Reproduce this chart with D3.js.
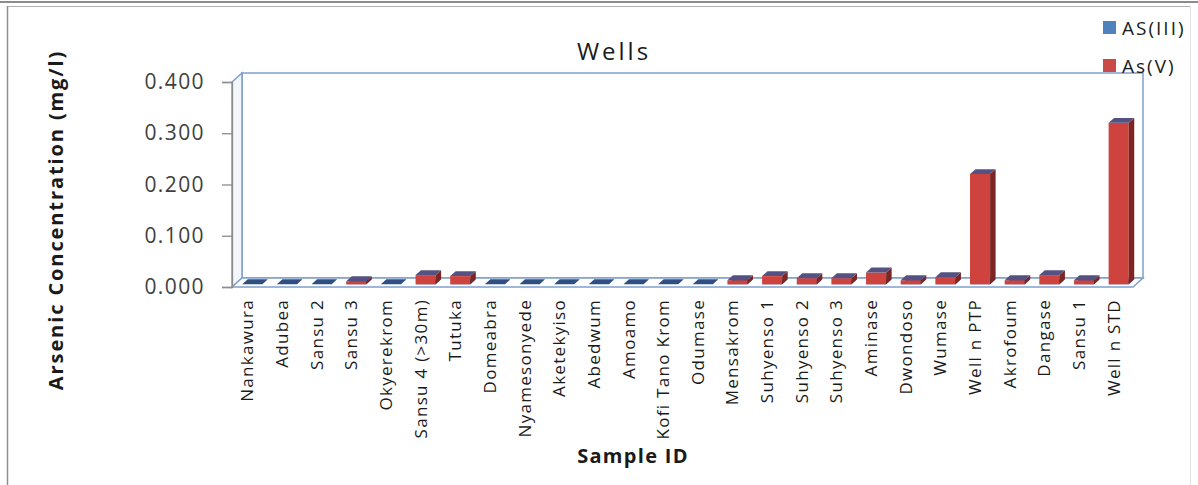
<!DOCTYPE html>
<html>
<head>
<meta charset="utf-8">
<script src="https://cdn.jsdelivr.net/npm/d3@7"></script>
<style>
  html, body { margin: 0; padding: 0; background: #fff; }
  svg { display: block; }
  text { font-family: "Open Sans", Lato, sans-serif; }
</style>
</head>
<body>
<svg id="chart" width="1198" height="485"></svg>
<script>
// Arsenic concentration per well (mg/l)
const categories = [
  "Nankawura", "Adubea", "Sansu 2", "Sansu 3", "Okyerekrom", "Sansu 4 (>30m)",
  "Tutuka", "Domeabra", "Nyamesonyede", "Aketekyiso", "Abedwum", "Amoamo",
  "Kofi Tano Krom", "Odumase", "Mensakrom", "Suhyenso 1", "Suhyenso 2",
  "Suhyenso 3", "Aminase", "Dwondoso", "Wumase", "Well n PTP", "Akrofoum",
  "Dangase", "Sansu 1", "Well n STD"
];
const as3 = [0, 0, 0, 0, 0, 0, 0, 0, 0, 0, 0, 0, 0, 0, 0, 0, 0, 0, 0, 0, 0, 0, 0, 0, 0, 0];
const as5 = [0, 0, 0, 0.006, 0, 0.018, 0.016, 0, 0, 0, 0, 0, 0, 0, 0.008, 0.016, 0.012,
             0.012, 0.023, 0.008, 0.014, 0.215, 0.008, 0.018, 0.008, 0.315];
const yTicks = [0, 0.1, 0.2, 0.3, 0.4];
const seriesNames = ["AS(III)", "As(V)"];
const seriesColors = ["#4f81bd", "#c94a46"];

const svg = d3.select("#chart");

// frame of the chart area
svg.append("line").attr("x1", 0).attr("x2", 1198).attr("y1", 2).attr("y2", 2)
  .attr("stroke", "#8c8c8c").attr("stroke-width", 2);
svg.append("line").attr("x1", 7.5).attr("x2", 1190).attr("y1", 6.5).attr("y2", 6.5)
  .attr("stroke", "#b0b0b0").attr("stroke-width", 1.2);
svg.append("line").attr("x1", 7.5).attr("x2", 7.5).attr("y1", 6).attr("y2", 485)
  .attr("stroke", "#8f8f8f").attr("stroke-width", 1.5);
svg.append("line").attr("x1", 1190.5).attr("x2", 1190.5).attr("y1", 6).attr("y2", 485)
  .attr("stroke", "#e2e2e2").attr("stroke-width", 1);

// plot geometry (front plane) and 3-D depth offset
const left = 232, right = 1133, base = 287;
const DX = 10, DY = 9;
const fa = 0.3, fb = 0.85;   // depth slice occupied by the columns

const x = d3.scaleBand().domain(categories).range([left, right]).paddingInner(0.42).paddingOuter(0.21);
const y = d3.scaleLinear().domain([0, 0.4]).range([base, 82]);

const wallStroke = "#7f9fcd";
const yTop = y(0.4);

// back wall
svg.append("rect")
  .attr("x", left + DX).attr("y", yTop - DY)
  .attr("width", right - left).attr("height", base - yTop)
  .attr("fill", "#ffffff").attr("stroke", wallStroke).attr("stroke-width", 1.5);
// side wall
svg.append("path")
  .attr("d", `M${left},${yTop} L${left + DX},${yTop - DY} L${left + DX},${base - DY} L${left},${base} Z`)
  .attr("fill", "#f3f7fc").attr("stroke", wallStroke).attr("stroke-width", 1.5);
// floor
svg.append("path")
  .attr("d", `M${left},${base} L${left + DX},${base - DY} L${right + DX},${base - DY} L${right},${base} Z`)
  .attr("fill", "#ffffff").attr("stroke", wallStroke).attr("stroke-width", 1.5);

// value axis on the front-left edge
const yAxis = svg.append("g").attr("transform", `translate(${left},0)`)
  .call(d3.axisLeft(y).tickValues(yTicks).tickFormat(d3.format(".3f")).tickSize(10).tickPadding(17));
yAxis.select(".domain").attr("stroke", "#8c8c8c").attr("stroke-width", 1.3);
yAxis.selectAll(".tick line").attr("stroke", "#8c8c8c").attr("stroke-width", 1.3);
yAxis.selectAll(".tick text")
  .attr("font-family", "'Open Sans', Lato, sans-serif")
  .attr("font-size", 21).attr("letter-spacing", 1.4).attr("fill", "#404040");

// point helper: front-plane (px,py) pushed back by depth fraction f
const P = (px, py, f) => [px + f * DX, py - f * DY];
const poly = pts => "M" + pts.map(p => p.join(",")).join("L") + "Z";

const bars = svg.append("g");
categories.forEach((c, i) => {
  const x0 = x(c), x1 = x0 + x.bandwidth();
  // AS(III) segment (bottom of the stack)
  const b3 = 0, t3 = as3[i];
  // As(V) segment stacked on it
  const b5 = t3, t5 = t3 + as5[i];

  const drawBlock = (v0, v1, front, side, topCol) => {
    const yb = y(v0), yt = y(v1);
    if (v1 > v0) {
      bars.append("path").attr("d", poly([P(x0, yb, fa), P(x1, yb, fa), P(x1, yt, fa), P(x0, yt, fa)]))
        .attr("fill", front);
      bars.append("path").attr("d", poly([P(x1, yb, fa), P(x1, yb, fb), P(x1, yt, fb), P(x1, yt, fa)]))
        .attr("fill", side);
    }
    bars.append("path").attr("d", poly([P(x0, yt, fa), P(x1, yt, fa), P(x1, yt, fb), P(x0, yt, fb)]))
      .attr("fill", topCol);
  };

  drawBlock(b3, t3, "#3d5f92", "#2a4370", "#2f4f82");
  if (as5[i] > 0) drawBlock(b5, t5, "#cf433e", "#7c2522", "#545282");
});

// category labels, rotated
svg.append("g").selectAll("text").data(categories).join("text")
  .attr("transform", d => `translate(${x(d) + x.bandwidth() / 2 + 4},299) rotate(-90)`)
  .attr("text-anchor", "end")
  .attr("font-size", 17)
  .attr("letter-spacing", 1.3)
  .attr("fill", "#1a1a1a")
  .text(d => d);

// titles
svg.append("text").attr("x", 614).attr("y", 60).attr("text-anchor", "middle")
  .attr("font-size", 24).attr("letter-spacing", 3).attr("fill", "#1a1a1a").text("Wells");
svg.append("text").attr("x", 633).attr("y", 463).attr("text-anchor", "middle")
  .attr("font-size", 20).attr("font-weight", "bold").attr("letter-spacing", 1.3)
  .attr("fill", "#1a1a1a").text("Sample ID");
svg.append("text").attr("transform", "translate(63,220) rotate(-90)").attr("text-anchor", "middle")
  .attr("font-size", 20).attr("font-weight", "bold").attr("letter-spacing", 1.9)
  .attr("fill", "#1a1a1a")
  .text("Arsenic Concentration (mg/l)");

// legend
const lg = svg.append("g").selectAll("g").data(seriesNames).join("g")
  .attr("transform", (d, i) => `translate(1103,${21 + i * 38})`);
lg.append("rect").attr("width", 13).attr("height", 13).attr("fill", (d, i) => seriesColors[i]);
lg.append("text").attr("x", 19).attr("y", 14).attr("font-size", 19).attr("letter-spacing", 2)
  .attr("fill", "#1a1a1a").text(d => d);
</script>
</body>
</html>
